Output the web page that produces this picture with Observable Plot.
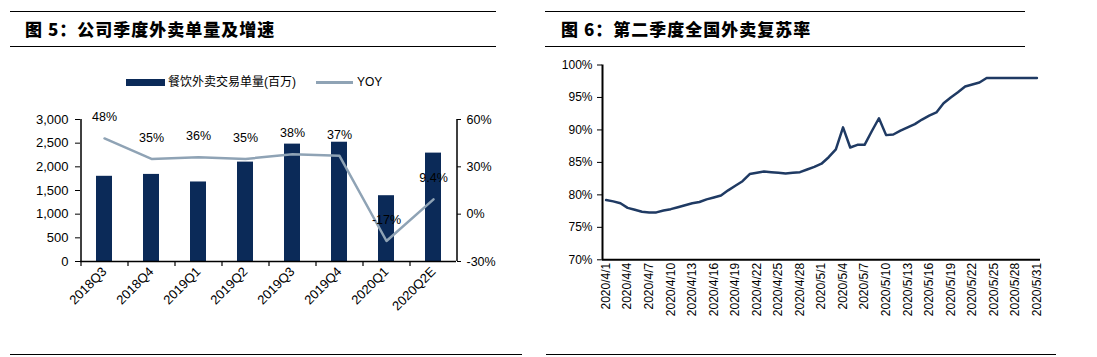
<!DOCTYPE html>
<html><head><meta charset="utf-8">
<script src="https://cdn.jsdelivr.net/npm/d3@7"></script>
<script src="https://cdn.jsdelivr.net/npm/@observablehq/plot@0.6"></script>
<style>
body{margin:0;background:#fff;}
#root{position:relative;width:1097px;height:357px;overflow:hidden;background:#fff;font-family:"Liberation Sans","Noto Sans CJK SC",Arial,sans-serif;color:#000;}
.rule{position:absolute;height:0;border-top:1.5px solid #000;}
.title{position:absolute;font-family:"Noto Sans CJK SC",sans-serif;font-weight:900;font-size:17px;letter-spacing:1px;line-height:20px;white-space:nowrap;}
.abs{position:absolute;white-space:nowrap;}
.plot{position:absolute;}
</style></head><body><div id="root"></div>
<script>
// ---- Figure 5 data ----
const quarters = ["2018Q3","2018Q4","2019Q1","2019Q2","2019Q3","2019Q4","2020Q1","2020Q2E"];
const orders = [1800,1840,1680,2100,2480,2520,1390,2290];          // 餐饮外卖交易单量(百万)
const yoy = [48,35,36,35,38,37,-17,9.4];                           // YOY %
const yoyLabels = ["48%","35%","36%","35%","38%","37%","-17%","9.4%"];
const leftTicks = [0,500,1000,1500,2000,2500,3000];
const rightTicks = [-30,0,30,60];

// ---- Figure 6 data ----
const recovery = [
  79.2,79.0,78.7,78.0,77.7,77.4,77.3,77.3,77.6,77.8,
  78.1,78.4,78.7,78.9,79.3,79.6,79.9,80.7,81.4,82.1,
  83.2,83.4,83.6,83.5,83.4,83.3,83.4,83.5,83.9,84.3,
  84.8,85.8,87.0,90.4,87.3,87.7,87.7,89.8,91.8,89.2,
  89.3,89.9,90.4,90.9,91.6,92.2,92.7,94.1,95.0,95.8,
  96.7,97.0,97.3,98.0,98.0,98.0,98.0,98.0,98.0,98.0,98.0
];
const dayLabels = d3.utcDay.range(new Date(Date.UTC(2020,3,1)), new Date(Date.UTC(2020,5,1)))
  .map(d => `${d.getUTCFullYear()}/${d.getUTCMonth()+1}/${d.getUTCDate()}`);
const dateTickIdx = [0,3,6,9,12,15,18,21,24,27,30,33,36,39,42,45,48,51,54,57,60];
const recoveryTicks = [70,75,80,85,90,95,100];

const NAVY = "#0b2a58", GREY = "#8fa3b5", LINE = "#1f3a63";
const root = document.getElementById("root");

function add(html){ root.insertAdjacentHTML("beforeend", html); }

// rules & titles
add(`<div class="rule" style="left:10px;top:11px;width:486px"></div>`);
add(`<div class="rule" style="left:10px;top:46px;width:486px"></div>`);
add(`<div class="rule" style="left:10px;top:354px;width:512px"></div>`);
add(`<div class="rule" style="left:545px;top:11px;width:480px"></div>`);
add(`<div class="rule" style="left:545px;top:46px;width:480px"></div>`);
add(`<div class="rule" style="left:546px;top:354px;width:510px"></div>`);
add(`<div class="title" style="left:25px;top:19px">图 5：公司季度外卖单量及增速</div>`);
add(`<div class="title" style="left:561px;top:19px">图 6：第二季度全国外卖复苏率</div>`);

// legend
add(`<div class="abs" style="left:126px;top:79px;width:39px;height:7px;background:${NAVY}"></div>`);
add(`<div class="abs" style="left:168px;top:74px;font-size:12px;line-height:16px">餐饮外卖交易单量(百万)</div>`);
add(`<div class="abs" style="left:316px;top:81px;width:37px;height:2.5px;background:${GREY}"></div>`);
add(`<div class="abs" style="left:357px;top:74px;font-size:12px;line-height:16px">YOY</div>`);

// ---- Figure 5 plots ----
const fig5 = quarters.map((q,i) => ({q, v: orders[i], yoy: yoy[i], label: yoyLabels[i]}));
const frame5 = {
  width: 500, height: 250, marginLeft: 80, marginRight: 44, marginTop: 19, marginBottom: 89,
  style: {fontFamily: '"Liberation Sans",Arial,sans-serif', fontSize: "12px", color: "#000", background: "transparent", overflow: "visible"},
};
const xBand = {type: "band", domain: quarters, paddingInner: 0.66, paddingOuter: 0.33};
const half = 376 / quarters.length / 2;

const p1 = Plot.plot({
  ...frame5,
  x: xBand,
  y: {domain: [0, 3000]},
  marks: [
    Plot.barY(fig5, {x: "q", y: "v", fill: NAVY}),
    Plot.ruleY([0], {stroke: "#000", strokeWidth: 1.5}),
    Plot.ruleX([quarters[0]], {dx: -half, y1: 0, y2: 3000, stroke: "#000", strokeWidth: 1.5}),
    Plot.ruleX(quarters, {x: d => d, dx: -half, y1: 0, y2: 0, insetBottom: -5, stroke: "#000", strokeWidth: 1.2}),
    Plot.axisY({ticks: leftTicks, tickFormat: d3.format(","), tickSize: 5, tickPadding: 7, label: null, fontSize: 13}),
    Plot.axisX({tickRotate: -45, tickSize: 0, tickPadding: 8, label: null, fontSize: 13})
  ]
});
p1.classList.add("plot"); p1.style.left = "0px"; p1.style.top = "100px";
root.appendChild(p1);

const p2 = Plot.plot({
  ...frame5,
  x: {...xBand, axis: null},
  y: {domain: [-30, 60]},
  marks: [
    Plot.ruleX([quarters[quarters.length-1]], {dx: half, y1: -30, y2: 60, stroke: "#000", strokeWidth: 1.5}),
    Plot.line(fig5, {x: "q", y: "yoy", stroke: GREY, strokeWidth: 2.5}),
    Plot.text(fig5, {x: "q", y: "yoy", text: "label", dy: -21, fontSize: 12.5, fill: "#000"}),
    Plot.axisY({anchor: "right", ticks: rightTicks, tickFormat: d => d + "%", tickSize: 4, tickPadding: 6, label: null, fontSize: 12.5})
  ]
});
p2.classList.add("plot"); p2.style.left = "0px"; p2.style.top = "100px";
root.appendChild(p2);

// ---- Figure 6 plot ----
const fig6 = recovery.map((v,i) => ({i, v}));
const p3 = Plot.plot({
  width: 557, height: 300, marginLeft: 62, marginRight: 57, marginTop: 14.5, marginBottom: 90.7,
  style: {fontFamily: '"Liberation Sans",Arial,sans-serif', fontSize: "12px", color: "#000", background: "transparent", overflow: "visible"},
  x: {domain: [-0.5, recovery.length - 0.5]},
  y: {domain: [70, 100]},
  marks: [
    Plot.ruleX([-0.5], {stroke: "#000", strokeWidth: 2}),
    Plot.ruleY([70], {stroke: "#000", strokeWidth: 2}),
    Plot.line(fig6, {x: "i", y: "v", stroke: LINE, strokeWidth: 2.5}),
    Plot.axisY({ticks: recoveryTicks, tickFormat: d => d + "%", tickSize: 5, tickPadding: 5, label: null, fontSize: 12}),
    Plot.axisX({ticks: dateTickIdx, tickFormat: i => dayLabels[i], tickRotate: -90, tickSize: 0, tickPadding: 3, label: null, fontSize: 12})
  ]
});
p3.classList.add("plot"); p3.style.left = "540px"; p3.style.top = "50px";
root.appendChild(p3);
</script>
</body></html>
